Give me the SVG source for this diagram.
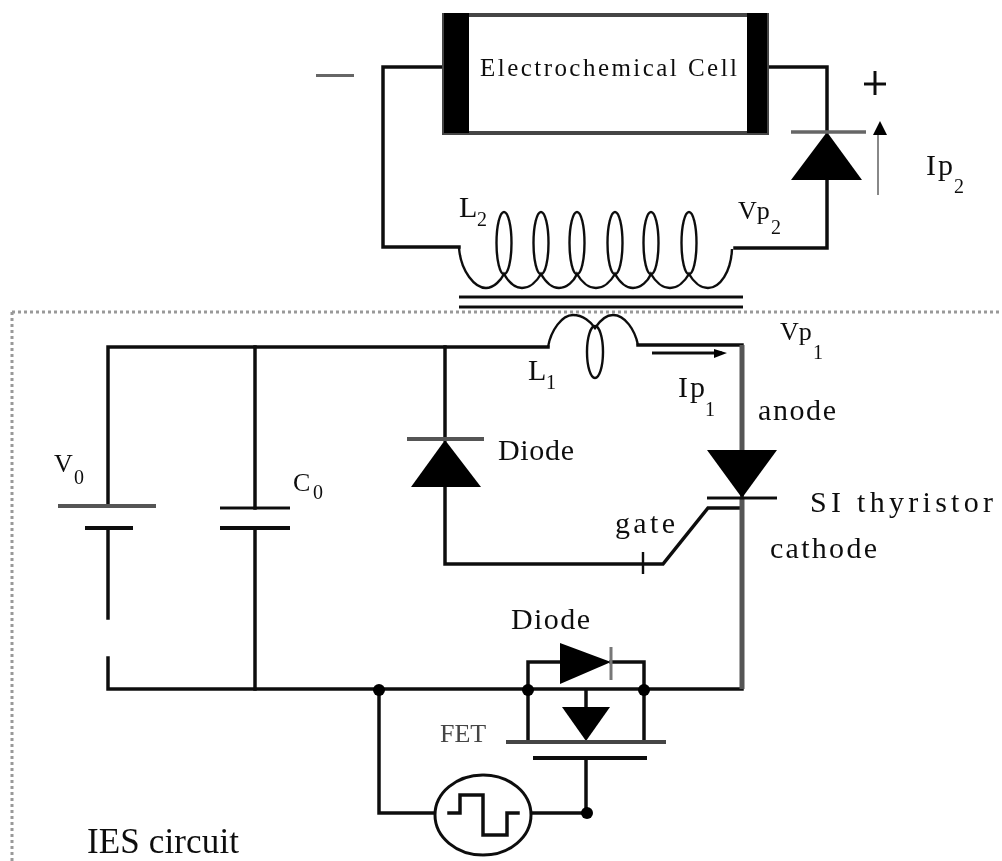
<svg xmlns="http://www.w3.org/2000/svg" width="1002" height="861" viewBox="0 0 1002 861">
<defs><filter id="soft" x="-2%" y="-2%" width="104%" height="104%"><feGaussianBlur stdDeviation="0.6"/></filter></defs>
<style>
.w{fill:none;stroke:#111;stroke-width:3.5;stroke-linecap:square}
.t{fill:none;stroke:#555;stroke-width:5}
.c{fill:none;stroke:#111;stroke-width:2.4}
.k{fill:#000;stroke:none}
.d{fill:none;stroke:#999;stroke-width:3;stroke-dasharray:3 3}
text{font-family:"Liberation Serif",serif;fill:#111;font-size:30px}
.m{font-size:25px}
.s{font-size:20px}
.l{font-size:35px}
.v{font-size:26px}
</style>
<rect width="1002" height="861" fill="#fff"/>
<g filter="url(#soft)">
<g id="connectors">
<path class="w" d="M444 67H383V247H459"/>
<path class="w" d="M767 67H827V132M827 180V248H735"/>
<path class="w" d="M548 347H108V506M108 528V618M108 658V689H742V345H638"/>
<path class="w" d="M255 347V508M255 528V689"/>
<path class="w" d="M445 347V440M445 487V564H663L708 508H742"/>
<path class="t" d="M742 345V450M742 498V689"/>
<path class="w" d="M528 690V662H560M611 662H644V742"/>
<path class="w" d="M528 690V742M586 690V707M586 758V813M379 690V813H436M530 813H587"/>
<path class="c" d="M643 552V574"/>
<path class="d" d="M12 312H1002M12 312V861"/>
</g>
<g id="cell">
<rect x="444" y="15" width="323" height="118" fill="#fff" stroke="#444" stroke-width="4"/>
<rect class="k" x="444" y="13" width="25" height="120"/>
<rect class="k" x="747" y="13" width="20" height="120"/>
<text class="m" x="480" y="76" textLength="257">Electrochemical Cell</text>
</g>
<g id="minus"><rect x="316" y="74" width="38" height="3" fill="#666"/></g>
<g id="plus"><path d="M875 71V95M864 84H886" stroke="#111" stroke-width="3" fill="none"/></g>
<g id="diode-output">
<polygon class="k" points="827,132 791,180 862,180"/>
<path d="M791 132H866" stroke="#666" stroke-width="3.5"/>
</g>
<g id="ip2-arrow">
<path d="M878 195V130" stroke="#888" stroke-width="2"/>
<polygon class="k" points="880,121 873,135 887,135"/>
<text x="926" y="175" textLength="27">Ip</text><text class="s" x="954" y="193">2</text>
</g>
<g id="coil-l2">
<path class="c" d="M459 248C461 272 475 288 486 288C494 288 501 280 504 274C508 281 514 288 522 288C530 288 537 281 541 274C545 281 551 288 559 288C567 288 574 281 577 274C581 281 588 288 596 288C604 288 611 281 615 274C619 281 625 288 633 288C641 288 648 281 651 274C655 281 662 288 670 288C678 288 685 281 689 274C693 281 700 288 708 288C720 288 731 272 732 249"/>
<ellipse class="c" cx="504" cy="243" rx="7.5" ry="31"/>
<ellipse class="c" cx="541" cy="243" rx="7.5" ry="31"/>
<ellipse class="c" cx="577" cy="243" rx="7.5" ry="31"/>
<ellipse class="c" cx="615" cy="243" rx="7.5" ry="31"/>
<ellipse class="c" cx="651" cy="243" rx="7.5" ry="31"/>
<ellipse class="c" cx="689" cy="243" rx="7.5" ry="31"/>
<text x="459" y="217">L</text><text class="s" x="477" y="226">2</text>
<text class="v" x="738" y="219">Vp</text><text class="s" x="771" y="234">2</text>
</g>
<g id="core">
<path d="M459 297H743M459 307H743" stroke="#111" stroke-width="3"/>
</g>
<g id="coil-l1">
<path class="c" d="M548 347C551 330 562 315 573 315C583 315 591 322 595 328C599 322 605 315 613 315C625 315 635 330 638 345"/>
<ellipse class="c" cx="595" cy="352" rx="8" ry="26"/>
<text x="528" y="380">L</text><text class="s" x="546" y="389">1</text>
<text class="v" x="780" y="340">Vp</text><text class="s" x="813" y="359">1</text>
</g>
<g id="ip1-arrow">
<path d="M652 353H722" stroke="#111" stroke-width="3"/>
<polygon class="k" points="727,353 714,349 714,358"/>
<text x="678" y="397" textLength="27">Ip</text><text class="s" x="705" y="416">1</text>
</g>
<g id="battery">
<path d="M58 506H156" stroke="#555" stroke-width="4"/>
<path d="M85 528H133" stroke="#111" stroke-width="4"/>
<text class="v" x="54" y="472">V</text><text class="s" x="74" y="484">0</text>
</g>
<g id="capacitor">
<path d="M220 508H290" stroke="#111" stroke-width="3"/>
<path d="M220 528H290" stroke="#111" stroke-width="4"/>
<text class="v" x="293" y="491">C</text><text class="s" x="313" y="499">0</text>
</g>
<g id="diode-free">
<polygon class="k" points="445,440 411,487 481,487"/>
<path d="M407 439H484" stroke="#555" stroke-width="4"/>
<text x="498" y="460" textLength="76">Diode</text>
</g>
<g id="thyristor">
<polygon class="k" points="707,450 777,450 742,498"/>
<path d="M707 498H777" stroke="#111" stroke-width="3"/>
<text x="758" y="420" textLength="78">anode</text>
<text x="810" y="512" textLength="183">SI thyristor</text>
<text x="615" y="533" textLength="60">gate</text>
<text x="770" y="558" textLength="107">cathode</text>
</g>
<g id="diode-fet">
<polygon class="k" points="560,643 560,684 611,662"/>
<path d="M611 647V680" stroke="#777" stroke-width="3"/>
<text x="511" y="629" textLength="79">Diode</text>
</g>
<g id="fet">
<polygon class="k" points="562,707 610,707 586,741"/>
<path d="M506 742H666" stroke="#444" stroke-width="4"/>
<path d="M533 758H647" stroke="#111" stroke-width="4"/>
<text class="v" x="440" y="742" style="fill:#444">FET</text>
</g>
<g id="pulse-source">
<ellipse cx="483" cy="815" rx="48" ry="40" fill="#fff" stroke="#111" stroke-width="3"/>
<path class="w" d="M449 813H460V795H483V835H507V813H518"/>
</g>
<g id="junctions">
<circle class="k" cx="379" cy="690" r="6"/>
<circle class="k" cx="528" cy="690" r="6"/>
<circle class="k" cx="644" cy="690" r="6"/>
<circle class="k" cx="587" cy="813" r="6"/>
</g>
<g id="label-ies"><text class="l" x="87" y="853" textLength="152">IES circuit</text></g>
</g>
</svg>
